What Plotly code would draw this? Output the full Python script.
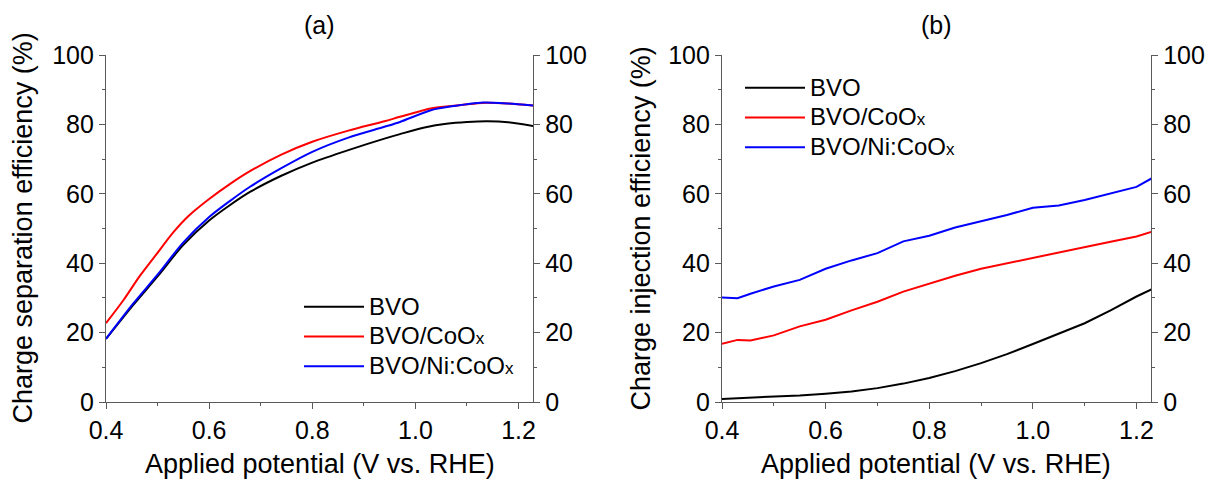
import plotly.graph_objects as go

# ---- (a) charge separation efficiency ----
v_sep_bvo = [0.40, 0.453, 0.50, 0.55, 0.60, 0.64, 0.68, 0.74, 0.80, 0.87, 0.94, 0.97, 1.02, 1.06, 1.10, 1.14, 1.18, 1.23]
sep_bvo = [18.2, 28.0, 36.2, 45.3, 52.3, 56.7, 60.6, 65.2, 69.0, 72.6, 75.9, 77.2, 79.2, 80.2, 80.7, 80.9, 80.6, 79.5]

v_sep_co = [0.40, 0.434, 0.466, 0.50, 0.53, 0.56, 0.60, 0.64, 0.68, 0.74, 0.80, 0.87, 0.94, 0.97, 1.03, 1.07, 1.10, 1.13, 1.18, 1.23]
sep_co = [22.7, 29.4, 36.4, 43.0, 48.8, 53.6, 58.5, 62.8, 66.6, 71.3, 75.0, 78.2, 80.9, 82.2, 84.6, 85.3, 85.8, 86.2, 86.0, 85.4]

v_sep_nico = [0.40, 0.453, 0.50, 0.55, 0.60, 0.64, 0.68, 0.74, 0.80, 0.87, 0.94, 0.97, 1.03, 1.07, 1.10, 1.13, 1.18, 1.23]
sep_nico = [18.2, 28.4, 36.7, 46.0, 53.3, 57.9, 62.1, 67.4, 72.1, 76.2, 79.3, 80.7, 84.1, 85.2, 85.8, 86.3, 86.0, 85.4]

# ---- (b) charge injection efficiency ----
v_inj = [0.40, 0.43, 0.455, 0.50, 0.55, 0.60, 0.65, 0.70, 0.75, 0.80, 0.85, 0.90, 0.95, 1.00, 1.05, 1.10, 1.15, 1.20, 1.23]
inj_bvo = [0.9, 1.1, 1.2, 1.5, 1.9, 2.4, 3.0, 4.0, 5.3, 6.9, 8.9, 11.2, 13.8, 16.7, 19.7, 22.7, 26.4, 30.4, 32.5]
inj_co = [16.8, 17.9, 17.7, 19.2, 21.8, 23.7, 26.4, 28.9, 31.8, 34.2, 36.4, 38.4, 40.0, 41.6, 43.1, 44.6, 46.2, 47.7, 49.1]
inj_nico = [30.1, 29.9, 31.2, 33.3, 35.2, 38.4, 40.8, 42.9, 46.3, 47.9, 50.3, 52.1, 53.9, 56.0, 56.6, 58.2, 60.1, 62.0, 64.5]

# legend entries: 24 px text with a smaller "x"
names = ["<span style='font-size:24px'>BVO</span>",
         "<span style='font-size:24px'>BVO/CoO</span><span style='font-size:17px'>x</span>",
         "<span style='font-size:24px'>BVO/Ni:CoO</span><span style='font-size:17px'>x</span>"]
colors = ["#000000", "#ff0000", "#0000ff"]

FONT = "Liberation Sans, Arial, sans-serif"
AX = "#5a5a5a"
W, H = 1208, 480

fig = go.Figure()

sep_sets = [(v_sep_bvo, sep_bvo), (v_sep_co, sep_co), (v_sep_nico, sep_nico)]
for (vx, vy), nm, c in zip(sep_sets, names, colors):
    fig.add_trace(go.Scatter(x=vx, y=vy, mode="lines", name=nm,
                             line=dict(color=c, width=2, shape="spline", smoothing=0.8),
                             xaxis="x", yaxis="y", legend="legend"))

for vy, nm, c in zip([inj_bvo, inj_co, inj_nico], names, colors):
    fig.add_trace(go.Scatter(x=v_inj, y=vy, mode="lines", name=nm,
                             line=dict(color=c, width=2),
                             xaxis="x2", yaxis="y2", legend="legend2"))

# empty traces keep the right-hand axes rendered
fig.add_trace(go.Scatter(x=[], y=[], xaxis="x", yaxis="y3", showlegend=False, hoverinfo="skip"))
fig.add_trace(go.Scatter(x=[], y=[], xaxis="x2", yaxis="y4", showlegend=False, hoverinfo="skip"))

dom_a = [106 / W, 533 / W]
dom_b = [722 / W, 1151 / W]
dom_y = [(H - 402) / H, (H - 55) / H]

common_x = dict(range=[0.4, 1.228], dtick=0.2, tick0=0.4, tickformat=".1f",
                ticks="outside", ticklen=6, tickwidth=1, tickcolor=AX,
                showline=True, linecolor=AX, linewidth=1.3,
                showgrid=False, zeroline=False, automargin=False,
                minor=dict(dtick=0.1, ticks="outside", ticklen=3, tickcolor=AX, showgrid=False),
                tickfont=dict(size=25, color="#000", family=FONT))
common_y = dict(range=[0, 100], dtick=20, ticks="outside", ticklen=6, tickwidth=1,
                tickcolor=AX, showline=True, linecolor=AX, linewidth=1.3,
                showgrid=False, zeroline=False, automargin=False,
                minor=dict(dtick=10, ticks="outside", ticklen=3, tickcolor=AX, showgrid=False),
                tickfont=dict(size=25, color="#000", family=FONT))


def label(text, x, y, size, angle=0):
    return dict(text=text, x=x, y=y, xref="paper", yref="paper", showarrow=False,
                textangle=angle, xanchor="center", yanchor="middle",
                font=dict(size=size, family=FONT, color="#000"))


ymid = 1 - 228.5 / H
fig.update_layout(
    width=W, height=H,
    margin=dict(l=0, r=0, t=0, b=0, autoexpand=False),
    paper_bgcolor="white", plot_bgcolor="white",
    font=dict(family=FONT, size=24, color="#000"),
    showlegend=True,
    xaxis=dict(domain=dom_a, anchor="y", **common_x),
    yaxis=dict(domain=dom_y, anchor="x", side="left", **common_y),
    yaxis3=dict(domain=dom_y, anchor="x", overlaying="y", side="right", **common_y),
    xaxis2=dict(domain=dom_b, anchor="y2", **common_x),
    yaxis2=dict(domain=dom_y, anchor="x2", side="left", **common_y),
    yaxis4=dict(domain=dom_y, anchor="x2", overlaying="y2", side="right", **common_y),
    legend=dict(x=299 / W, y=1 - 287 / H, xanchor="left", yanchor="top",
                bgcolor="rgba(0,0,0,0)", font=dict(size=20.5, family=FONT),
                itemwidth=60, tracegroupgap=0),
    legend2=dict(x=740 / W, y=1 - 68 / H, xanchor="left", yanchor="top",
                 bgcolor="rgba(0,0,0,0)", font=dict(size=20.5, family=FONT),
                 itemwidth=60, tracegroupgap=0),
    annotations=[
        label("(a)", sum(dom_a) / 2, 1 - 25 / H, 25),
        label("(b)", sum(dom_b) / 2, 1 - 25 / H, 25),
        label("Charge separation efficiency (%)", 22 / W, ymid, 27, -90),
        label("Charge injection efficiency (%)", 640 / W, ymid, 27, -90),
        label("Applied potential (V vs. RHE)", sum(dom_a) / 2, 1 - 464 / H, 27),
        label("Applied potential (V vs. RHE)", sum(dom_b) / 2, 1 - 464 / H, 27),
    ],
)

fig.write_html("out.html")
